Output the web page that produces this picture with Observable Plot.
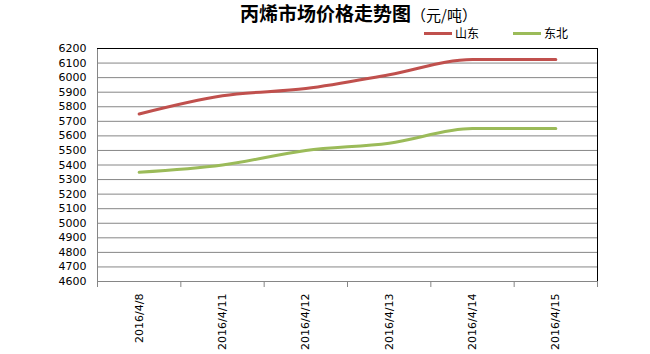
<!DOCTYPE html>
<html>
<head>
<meta charset="utf-8">
<script src="https://cdn.jsdelivr.net/npm/d3@7"></script>
<script src="https://cdn.jsdelivr.net/npm/@observablehq/plot@0.6"></script>
<style>
  body { margin: 0; background: #fff; }
  #wrap { position: relative; width: 650px; height: 354px; font-family: "Noto Sans CJK SC", "DejaVu Sans", sans-serif; }
  #wrap svg { position: absolute; left: 0; top: 0; }
  .title { position: absolute; left: 240px; top: 2px; height: 22px; line-height: 22px; white-space: nowrap; color: #000; }
  .title .main { font-size: 19px; font-weight: bold; }
  .title .unit { font-size: 15px; font-weight: normal; }
  .leg { position: absolute; top: 25px; height: 16px; font-size: 12px; line-height: 16px; white-space: nowrap; color: #000; }
  .sw { display: inline-block; width: 28px; height: 3px; vertical-align: middle; margin-right: 3px; position: relative; top: -1px; }
</style>
</head>
<body>
<div id="wrap">
  <div class="title"><span class="main">丙烯市场价格走势图</span><span class="unit">（元/吨）</span></div>
</div>
<script>
const dates = ["2016/4/8", "2016/4/11", "2016/4/12", "2016/4/13", "2016/4/14", "2016/4/15"];
const shandong = [5750, 5875, 5925, 6020, 6125, 6125];
const dongbei = [5350, 5400, 5500, 5550, 5650, 5650];
const seriesNames = ["山东", "东北"];
const seriesColors = ["#C0504D", "#9BBB59"];
const yTicks = d3.range(4600, 6201, 100);

const data = [];
dates.forEach((d, i) => {
  data.push({ i, date: d, value: shandong[i], series: seriesNames[0] });
  data.push({ i, date: d, value: dongbei[i], series: seriesNames[1] });
});
const boundaries = d3.range(-0.5, dates.length, 1);
const xMin = -0.5, xMax = dates.length - 0.5;

const chart = Plot.plot({
  width: 650,
  height: 354,
  marginTop: 48,
  marginBottom: 73,
  marginLeft: 97,
  marginRight: 53,
  style: { fontFamily: "'DejaVu Sans', sans-serif", fontSize: "11px", color: "#000", background: "transparent" },
  x: { domain: [xMin, xMax] },
  y: { domain: [4600, 6200] },
  color: { domain: seriesNames, range: seriesColors },
  marks: [
    Plot.ruleY(yTicks, { stroke: "#868686", strokeWidth: 1, strokeOpacity: 1 }),
    Plot.ruleX([xMin], { stroke: "#868686", strokeOpacity: 1 }),
    Plot.ruleY([4600], { stroke: "#868686", strokeOpacity: 1 }),
    Plot.ruleY([6200], { stroke: "#000", strokeOpacity: 1 }),
    Plot.ruleX([xMax], { stroke: "#000", strokeOpacity: 1 }),
    Plot.axisY({ ticks: yTicks, tickFormat: d => String(d), tickSize: 0, tickPadding: 11, label: null, fontSize: 11 }),
    Plot.axisX({ ticks: boundaries, tickFormat: () => "", tickSize: 6, stroke: "#868686", label: null }),
    Plot.axisX({ ticks: d3.range(dates.length), tickFormat: i => dates[i], tickSize: 0, tickPadding: 12, tickRotate: -90, label: null, fontSize: 11 }),
    Plot.line(data, { x: "i", y: "value", z: "series", stroke: "series", strokeWidth: 3, curve: "monotone-x" })
  ]
});
document.getElementById("wrap").appendChild(chart);

// legend
const wrap = document.getElementById("wrap");
const legPos = [424, 513];
seriesNames.forEach((name, k) => {
  const el = document.createElement("div");
  el.className = "leg";
  el.style.left = legPos[k] + "px";
  el.innerHTML = `<span class="sw" style="background:${seriesColors[k]}"></span>${name}`;
  wrap.appendChild(el);
});
</script>
</body>
</html>
